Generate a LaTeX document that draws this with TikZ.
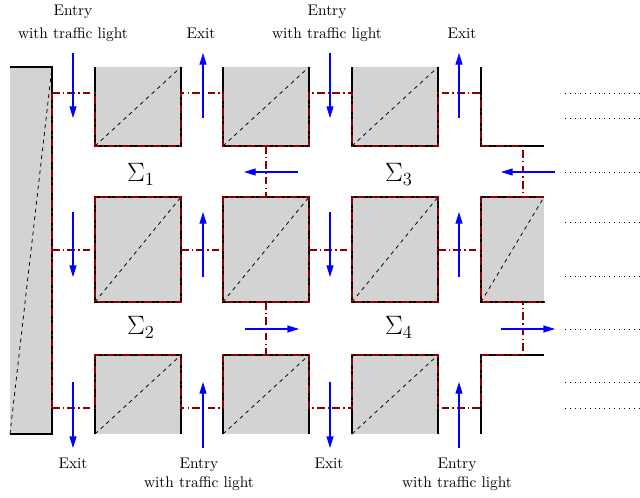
\documentclass[tikz,border=0pt]{standalone}
\usetikzlibrary{arrows.meta}
\definecolor{blockgray}{RGB}{211,211,211}
\definecolor{regred}{RGB}{139,0,0}
\tikzset{
  blk/.style={fill=blockgray},
  edgeline/.style={line width=1pt, black},
  diag/.style={line width=0.5pt, dash pattern=on 2.5pt off 2.5pt},
  reg/.style={regred, line width=1pt, dash pattern=on 5pt off 2pt on 1pt off 2pt},
  flow/.style={blue, line width=0.7pt, -{Triangle[length=7.5pt,width=4.5pt]}},
  far/.style={line width=0.5pt, dash pattern=on 0.5pt off 2.7pt},
  lbl/.style={anchor=base, inner sep=0pt},
  sig/.style={font=\LARGE, inner sep=0pt}
}
\begin{document}
\begin{tikzpicture}[x=0.65pt, y=-0.65pt]
\useasboundingbox (0,0) rectangle (640,497);
% left block
\fill[blk] (10,67) rectangle (52,434);
\draw[diag] (10,434) -- (52,67);
\draw[edgeline] (10,67) -- (52,67) -- (52,434) -- (10,434);
% blocks in the three full columns
\foreach \a/\b in {95/181, 223/309, 352/438} {
  % top row
  \fill[blk] (\a,67) rectangle (\b,146);
  \draw[diag] (\a,146) -- (\b,67);
  \draw[edgeline] (\a,67) -- (\a,146) -- (\b,146) -- (\b,67);
  % middle row
  \fill[blk] (\a,197) rectangle (\b,302);
  \draw[diag] (\a,302) -- (\b,197);
  \draw[edgeline] (\a,197) rectangle (\b,302);
  % bottom row
  \fill[blk] (\a,355) rectangle (\b,434);
  \draw[diag] (\a,434) -- (\b,355);
  \draw[edgeline] (\a,434) -- (\a,355) -- (\b,355) -- (\b,434);
}
% right partial column
\draw[edgeline] (481,67) -- (481,146) -- (544,146);
\fill[blk] (481,197) rectangle (544,302);
\draw[diag] (481,302) -- (544,197);
\draw[edgeline] (544,197) -- (481,197) -- (481,302) -- (544,302);
\draw[edgeline] (481,434) -- (481,355) -- (544,355);
% region boundaries
\draw[reg] (52,408) -- (52,93);
\draw[reg] (52,93) -- (95,93) -- (95,146) -- (181,146) -- (181,93) -- (223,93) -- (223,146) -- (309,146) -- (309,93) -- (352,93) -- (352,146) -- (438,146) -- (438,93) -- (481,93) -- (481,146) -- (523,146) -- (523,197);
\draw[reg] (52,408) -- (95,408) -- (95,355) -- (181,355) -- (181,408) -- (223,408) -- (223,355) -- (309,355) -- (309,408) -- (352,408) -- (352,355) -- (438,355) -- (438,408) -- (481,408) -- (481,355) -- (523,355) -- (523,302);
\foreach \a/\b in {95/181, 223/309, 352/438} {
  \draw[reg] (\a,197) rectangle (\b,302);
}
\draw[reg] (544,197) -- (481,197) -- (481,302) -- (544,302);
\foreach \a/\b in {52/95, 181/223, 309/352, 438/481} {
  \draw[reg] (\a,250) -- (\b,250);
}
\draw[reg] (266,146) -- (266,197);
\draw[reg] (266,302) -- (266,355);
% flows
\foreach \y/\z in {53/118, 212/277, 382/448} {
  \draw[flow] (73,\y) -- (73,\z);
  \draw[flow] (203,\z) -- (203,\y);
  \draw[flow] (330,\y) -- (330,\z);
  \draw[flow] (459,\z) -- (459,\y);
}
\draw[flow] (298,172) -- (244,172);
\draw[flow] (555,172) -- (501,172);
\draw[flow] (245,329) -- (299,329);
\draw[flow] (501,329) -- (555,329);
% continuation dots
\foreach \y in {93,118,172,222,276,329,382,408} {
  \draw[far] (565,\y) -- (640,\y);
}
% labels
\node[lbl] (e1) at (73,15) {Entry};
\node[lbl] (e1b) at (73,38) {with traffic light};
\node[lbl] (x1) at (201,38) {Exit};
\node[lbl] (e2) at (327,15) {Entry};
\node[lbl] (e2b) at (327,38) {with traffic light};
\node[lbl] (x2) at (462,38) {Exit};
\node[lbl] (x3) at (73,468) {Exit};
\node[lbl] (e3) at (199,468) {Entry};
\node[lbl] (e3b) at (199,487) {with traffic light};
\node[lbl] (x4) at (329,468) {Exit};
\node[lbl] (e4) at (457,468) {Entry};
\node[lbl] (e4b) at (457,487) {with traffic light};
\node[sig] (s1) at (141,174) {$\Sigma_1$};
\node[sig] (s2) at (141,327) {$\Sigma_2$};
\node[sig] (s3) at (399,174) {$\Sigma_3$};
\node[sig] (s4) at (399,327) {$\Sigma_4$};
\end{tikzpicture}
\end{document}
